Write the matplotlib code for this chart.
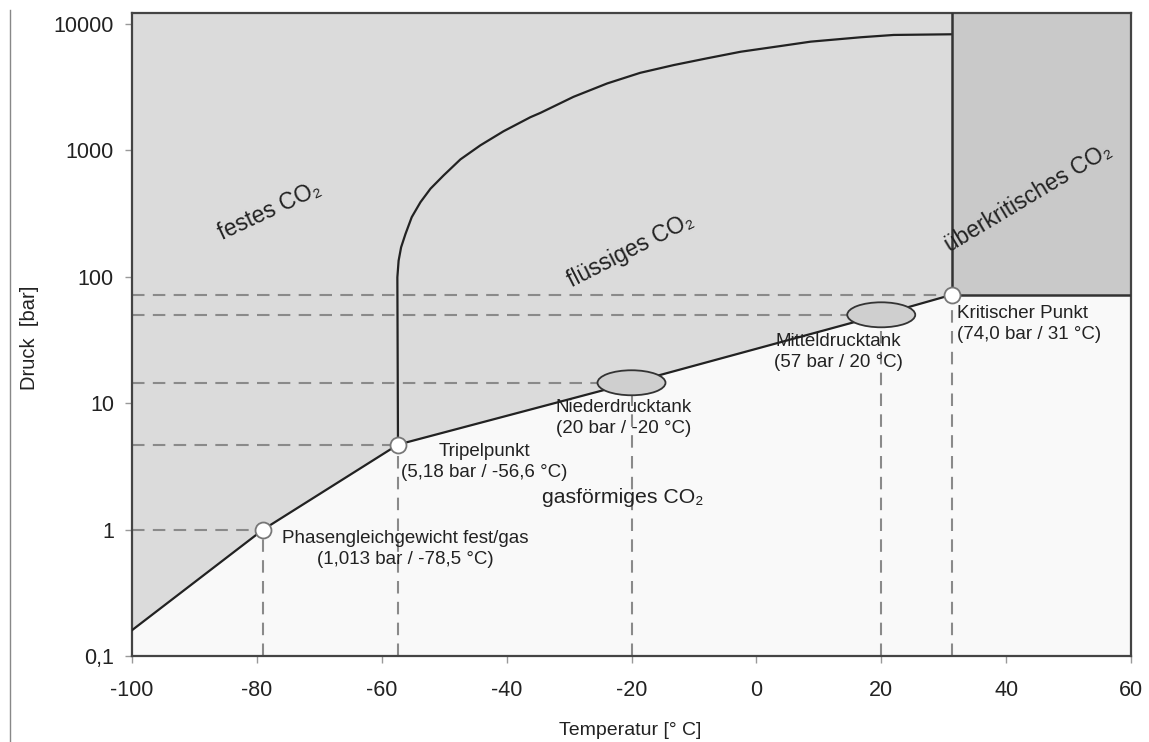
import numpy as np
import matplotlib.pyplot as plt
from matplotlib.patches import Ellipse
from matplotlib.lines import Line2D

plt.rcParams['font.family'] = ['Liberation Sans', 'DejaVu Sans']
plt.rcParams['axes.unicode_minus'] = False

# phase boundaries (T in °C, p in bar)
sub_T = [-100, -79.0, -57.4]
sub_P = [0.16, 1.0, 4.7]
vap_T = [-57.4, -20, 20, 31.3]
vap_P = [4.7, 14.5, 50, 72]
melt_T = [-57.4, -57.5, -57.3, -56.9, -56.2, -55.2, -53.8, -52.2, -50.1, -47.4,
          -44.2, -40.5, -36.2, -34.6, -29.3, -23.9, -18.6, -13.2, -7.9, -2.5,
          3.9, 8.7, 16.7, 22.0, 31.3]
melt_P = [4.7, 99, 134, 171, 218, 296, 389, 497, 633, 848,
          1096, 1415, 1828, 1977, 2649, 3381, 4104, 4730, 5345, 6026,
          6688, 7240, 7840, 8180, 8280]

# marked points
pts_T = [-79.0, -57.4, 31.3]
pts_P = [1.0, 4.7, 72]
tank_names = ['NDT', 'MDT']
tank_T = [-20, 20]
tank_P = [14.5, 50]

xticks = [-100, -80, -60, -40, -20, 0, 20, 40, 60]
yticks = [0.1, 1, 10, 100, 1000, 10000]
ytick_labels = ['0,1', '1', '10', '100', '1000', '10000']

ytop = 12200
W, H = 1149, 742

fig = plt.figure(figsize=(11.49, 7.42), dpi=100)
ax = fig.add_axes([132/W, 1-656/H, (1131-132)/W, (656-13)/H])
ax.set_facecolor('#f9f9f9')
ax.set_yscale('log')
ax.set_xlim(-100, 60)
ax.set_ylim(0.1, ytop)

# regions
bx = sub_T + vap_T[1:]
bp = sub_P + vap_P[1:]
ax.fill_between(bx, bp, ytop, color='#dbdbdb', lw=0, zorder=0)
ax.fill_between([vap_T[-1], 60], vap_P[-1], ytop, color='#c9c9c9', lw=0, zorder=0)

# dashed guide lines
dash = dict(color='#8a8a8a', lw=1.5, dashes=(6, 4), zorder=1)
for t, p in zip(pts_T + tank_T, pts_P + tank_P):
    ax.plot([-100, t], [p, p], **dash)
    ax.plot([t, t], [0.1, p], **dash)

# boundaries
ax.plot(sub_T, sub_P, color='#222', lw=1.6, zorder=3)
ax.plot(vap_T, vap_P, color='#222', lw=1.6, zorder=3)
ax.plot(melt_T, melt_P, color='#222', lw=1.6, zorder=3)
ax.plot([vap_T[-1], vap_T[-1]], [vap_P[-1], ytop], color='#333', lw=1.8, zorder=3)
ax.plot([vap_T[-1], 60], [vap_P[-1], vap_P[-1]], color='#333', lw=1.8, zorder=3)

ax.plot(pts_T, pts_P, 'o', ms=11.5, mfc='white', mec='#777', mew=1.3, zorder=5)

# tank ellipses (fixed size in inches)
for name, t, p in zip(tank_names, tank_T, tank_P):
    cx, cy = ax.transData.transform((t, p)) / fig.dpi
    e = Ellipse((cx, cy), 0.68, 0.25, transform=fig.dpi_scale_trans,
                fc='#cfcfcf', ec='#333', lw=1.3, zorder=6)
    fig.add_artist(e)
    ax.text(t, p, name, ha='center', va='center', fontsize=13.5, color='#222', zorder=7)

# labels
tc = '#222'
ax.text(-77.9, 334, 'festes CO₂', rotation=25, ha='center', va='center', fontsize=16.5, color=tc)
ax.text(-20.1, 161, 'flüssiges CO₂', rotation=27, ha='center', va='center', fontsize=16.5, color=tc)
ax.text(43.5, 424, 'überkritisches CO₂', rotation=31, ha='center', va='center', fontsize=16.5, color=tc)
ax.text(-21.4, 1.79, 'gasförmiges CO₂', ha='center', va='center', fontsize=15.3, color=tc)
ann = dict(fontsize=13.5, color=tc, linespacing=1.3, zorder=4)
ax.text(-56.3, 0.707, 'Phasengleichgewicht fest/gas\n(1,013 bar / -78,5 °C)',
        ha='center', va='center', **ann)
ax.text(-43.6, 3.4, 'Tripelpunkt\n(5,18 bar / -56,6 °C)',
        ha='center', va='center', **ann)
ax.text(-21.2, 7.6, 'Niederdrucktank\n(20 bar / -20 °C)',
        ha='center', va='center', **ann)
ax.text(13.1, 25.4, 'Mitteldrucktank\n(57 bar / 20 °C)',
        ha='center', va='center', **ann)
ax.text(32.1, 42.3, 'Kritischer Punkt\n(74,0 bar / 31 °C)',
        ha='left', va='center', **ann)

ax.set_xticks(xticks)
ax.set_yticks(yticks)
ax.set_yticklabels(ytick_labels)
ax.minorticks_off()
ax.tick_params(labelsize=15.5, colors='#999', labelcolor='#222', length=5, width=1)
ax.tick_params(axis='x', pad=12)
ax.tick_params(axis='y', pad=8)
for s in ax.spines.values():
    s.set_color('#444')
    s.set_linewidth(1.6)

ax.set_xlabel('Temperatur [° C]', fontsize=14, color=tc)
ax.set_ylabel('Druck  [bar]', fontsize=14.5, color=tc)
ax.xaxis.set_label_coords((630-132)/999, (656-722)/643)
ax.yaxis.set_label_coords((39-132)/999, (656-338)/643)

fig.add_artist(Line2D([10/W, 10/W], [0, 1-10/H], transform=fig.transFigure, color='#888', lw=1))

fig.savefig('out.png', dpi=100)
